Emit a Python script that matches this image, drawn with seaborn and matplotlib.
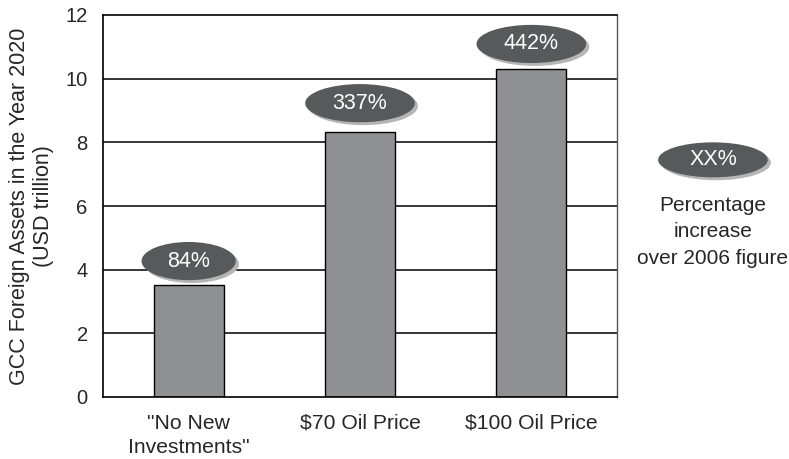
import matplotlib
matplotlib.use("Agg")
import matplotlib.pyplot as plt
from matplotlib.patches import Ellipse
import seaborn as sns
import pandas as pd

categories = ['"No New\nInvestments"', "$70 Oil Price", "$100 Oil Price"]
values = [3.52, 8.33, 10.3]
pct_labels = ["84%", "337%", "442%"]
yticks = [0, 2, 4, 6, 8, 10, 12]

sns.set_theme(style="white")
plt.rcParams["font.family"] = ["Liberation Sans", "DejaVu Sans"]

df = pd.DataFrame({"scenario": categories, "assets": values})

fig = plt.figure(figsize=(7.89, 4.59), dpi=100)
ax = fig.add_axes([103/789, 1 - 397/459, (617-103)/789, (397-15)/459])

for y in yticks[1:-1]:
    ax.axhline(y, color="black", lw=1.1, zorder=0)

sns.barplot(data=df, x="scenario", y="assets", color="#8f9094", edgecolor="black",
            linewidth=1.0, width=0.41, saturation=1, ax=ax, zorder=2)

ax.set_xlim(-0.5, 2.5)
ax.set_ylim(0, 12)
ax.set_yticks(yticks)
ax.set_yticklabels([str(t) for t in yticks], fontsize=14.5)
ax.set_xticks([-0.5, 0.5, 1.5, 2.5])
ax.set_xticklabels([])
ax.set_xticks([0, 1, 2], minor=True)
ax.set_xticklabels(categories, minor=True, fontsize=15.2, linespacing=1.35)
ax.tick_params(axis="x", which="minor", length=0, pad=12)
ax.tick_params(axis="x", which="major", length=7, width=1, color="black", direction="out")
ax.tick_params(axis="y", length=7, width=1, color="black", direction="out", pad=4)
ax.set_xlabel("")
ax.set_ylabel("GCC Foreign Assets in the Year 2020\n(USD trillion)", fontsize=15.5,
              labelpad=8, linespacing=1.2)

for side in ["left", "bottom", "top"]:
    ax.spines[side].set_color("black")
    ax.spines[side].set_linewidth(1.2)
ax.spines["right"].set_color("#555555")
ax.spines["right"].set_linewidth(1.0)

def bubble(x, y, w, h, text):
    sh = Ellipse((x + 0.018, y - 0.09), w, h, facecolor="#b5b5b5", edgecolor="none",
                 zorder=3, clip_on=False)
    ax.add_patch(sh)
    e = Ellipse((x, y), w, h, facecolor="#58595b", edgecolor="none", zorder=4, clip_on=False)
    ax.add_patch(e)
    ax.text(x, y, text, color="white", ha="center", va="center", fontsize=15.5, zorder=5)

offsets = [0.75, 0.9, 0.79]
widths = [0.55, 0.64, 0.64]
for i, (v, lab) in enumerate(zip(values, pct_labels)):
    bubble(i, v + offsets[i], widths[i], 1.2, lab)

bubble(3.06, 7.45, 0.64, 1.1, "XX%")
ax.text(3.06, 6.32, "Percentage\nincrease\nover 2006 figure", ha="center", va="top",
        fontsize=15, linespacing=1.5, clip_on=False)

fig.savefig("out.png", dpi=100)
